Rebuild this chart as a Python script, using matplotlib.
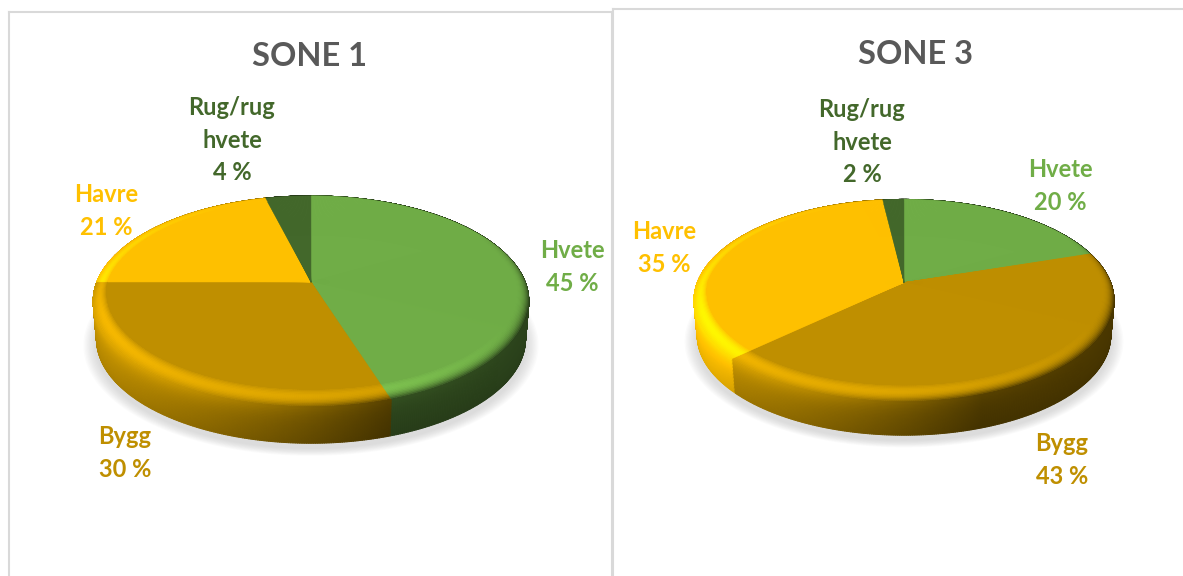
import numpy as np
import matplotlib
matplotlib.use('Agg')
import matplotlib.pyplot as plt
from matplotlib.collections import PolyCollection

plt.rcParams['font.family'] = ['Lato', 'DejaVu Sans']

kategorier = ['Hvete', 'Bygg', 'Havre', 'Rug/rug\nhvete']
farger = ['#70AD47', '#BF8F00', '#FFC000', '#43682B']
sone1 = [45, 30, 21, 4]
sone3 = [20, 43, 35, 2]

BREDDE, HOYDE = 1183, 576


def projiser(theta, r, geo, dy=0.0, skala=1.0):
    # perspektiv: sentrum av kaka ligger hoyere enn midten av ellipsen
    u = r * np.sin(theta)
    v = -r * np.cos(theta)
    n = 1 + geo['k'] * v
    x = geo['cx'] + skala * geo['R'] * u / n
    y = geo['cy'] + dy + skala * geo['a'] * v / n
    return x, y


def side_skygge(x, geo):
    t = (x - (geo['cx'] - geo['rx'])) / (2 * geo['rx'])
    return np.clip(1.0 - 0.9 * t, 0.38, 1.0)


def tegn_kake(ax, verdier, geo):
    rgb = np.array([matplotlib.colors.to_rgb(f) for f in farger])
    grenser = np.cumsum(verdier) / np.sum(verdier) * 2 * np.pi
    th = np.linspace(0, 2 * np.pi, 721)
    midt = (th[:-1] + th[1:]) / 2
    idx = np.minimum(np.searchsorted(grenser, midt), len(verdier) - 1)
    u, v = np.sin(midt), -np.cos(midt)
    vekt = np.clip((v + 0.5) / 0.8, 0, 1)
    lys = np.clip(-0.35 * u + 0.85 * v, 0, 1)

    # myk skygge under kaka
    for s in np.linspace(1.045, 0.99, 10):
        x, y = projiser(th, 1.0, geo, dy=geo['d'] + 5, skala=s)
        ax.fill(x, y, color='#8c8c8c', alpha=0.032, lw=0, zorder=1)

    # sideveggen, fra bunnen og opp saa lagene overlapper
    polys, cols = [], []
    lag = np.linspace(0, 1, 25)
    for z1 in lag[::-1][:-1]:
        s1 = 1 - 0.015 * z1
        x00, y00 = projiser(th[:-1], 1.0, geo)
        x10, y10 = projiser(th[1:], 1.0, geo)
        x01, y01 = projiser(th[:-1], 1.0, geo, dy=geo['d'] * z1, skala=s1)
        x11, y11 = projiser(th[1:], 1.0, geo, dy=geo['d'] * z1, skala=s1)
        for i in range(len(midt)):
            polys.append([(x00[i], y00[i]), (x10[i], y10[i]), (x11[i], y11[i]), (x01[i], y01[i])])
            fak = side_skygge(x00[i], geo) * (1 - 0.08 * z1 ** 3 + 0.3 * lys[i] * (1 - z1) ** 3)
            cols.append(np.clip(rgb[idx[i]] * fak, 0, 1))
    pc = PolyCollection(polys, facecolors=cols, edgecolors='face', linewidths=0.7, zorder=2)
    ax.add_collection(pc)

    # toppflaten, med avrundet kant ytterst (innover fra kanten)
    bredde = 0.05 + 0.07 * np.clip(v, 0, 1)
    polys, cols = [], []
    for q in list(np.linspace(1.0, 0.0, 14)) + [None]:
        r = 1 - bredde * (1 - q) if q is not None else 1 - bredde
        q = 0.0 if q is None else q
        xb0, yb0 = projiser(th[:-1], r, geo)
        xb1, yb1 = projiser(th[1:], r, geo)
        for i in range(len(midt)):
            s = side_skygge(xb0[i], geo) * (1 + 0.3 * lys[i])
            fak = 1 + (s - 1) * vekt[i] * q ** 3
            fak += 0.22 * lys[i] * vekt[i] * np.sin(np.pi * q)
            # liten lys stripe helt til venstre
            fak += 0.16 * np.clip(-u[i], 0, 1) ** 3 * np.sin(np.pi * q)
            polys.append([(geo['cx'], geo['cy']), (xb0[i], yb0[i]), (xb1[i], yb1[i])])
            cols.append(np.clip(rgb[idx[i]] * fak, 0, 1))
    pc = PolyCollection(polys, facecolors=cols, edgecolors='face', linewidths=0.3, zorder=3)
    ax.add_collection(pc)


def panel(fig, x0, x1, y0, tittel, verdier, geo, tittel_pos, etikett_pos):
    ax = fig.add_axes([x0 / BREDDE, 0, (x1 - x0) / BREDDE, 1 - y0 / HOYDE])
    ax.set_xlim(x0, x1)
    ax.set_ylim(HOYDE, y0)
    ax.set_xticks([])
    ax.set_yticks([])
    ax.patch.set_alpha(0)
    ax.spines['bottom'].set_visible(False)
    for s in ['left', 'top', 'right']:
        ax.spines[s].set_color('#D9D9D9')
        ax.spines[s].set_linewidth(1.5)

    tegn_kake(ax, verdier, geo)

    ax.text(tittel_pos[0], tittel_pos[1], tittel, fontsize=23.5, fontweight='bold', color='#595959',
            ha='center', va='center')
    for navn, verdi, farge, pos in zip(kategorier, verdier, farger, etikett_pos):
        ax.text(pos[0], pos[1], f'{navn}\n{verdi} %', fontsize=17, fontweight='bold', color=farge,
                ha='center', va='center', linespacing=1.5, zorder=5)
    return ax


fig = plt.figure(figsize=(BREDDE / 100, HOYDE / 100), dpi=100, facecolor='white')

geo1 = {'cx': 311, 'cy': 282, 'R': 214, 'rx': 218, 'a': 102, 'k': -0.185, 'd': 38}
geo3 = {'cx': 904, 'cy': 282.5, 'R': 206.5, 'rx': 210, 'a': 98, 'k': -0.18, 'd': 35}

panel(fig, 9, 612, 12, 'SONE 1', sone1, geo1, (310, 57),
      [(572, 267), (125, 453), (106, 211), (232, 140)])
panel(fig, 613, 1190, 9, 'SONE 3', sone3, geo3, (916, 54),
      [(1060, 186), (1062, 460), (664, 248), (862, 142)])

fig.savefig('out.png', dpi=100)
